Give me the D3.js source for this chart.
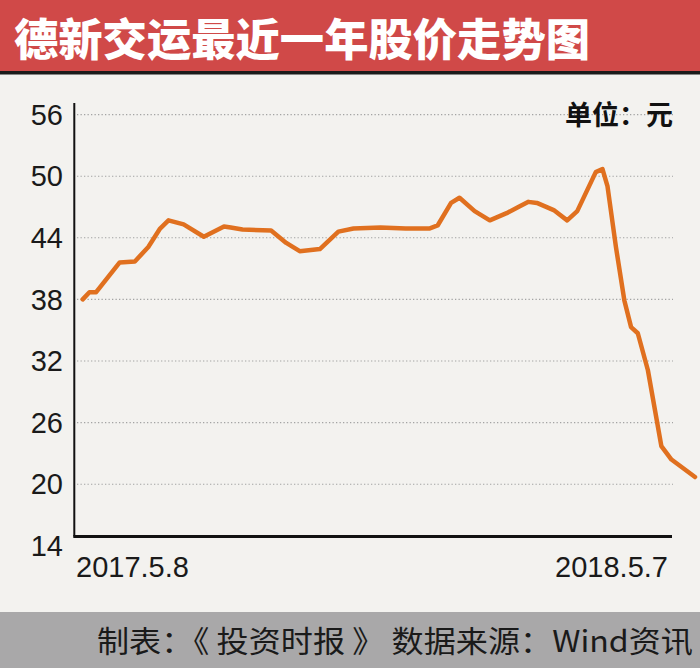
<!DOCTYPE html>
<html>
<head>
<meta charset="utf-8">
<script src="https://cdn.jsdelivr.net/npm/d3@7"></script>
<style>
  html, body { margin: 0; padding: 0; background: #F3F2EF; }
  svg { display: block; }
</style>
</head>
<body>
<svg id="chart" width="700" height="668"></svg>
<script>
// ---- data ----
const titleText = "德新交运最近一年股价走势图";
const unitText = "单位：元";
const footerText = "制表：《 投资时报 》 数据来源：Wind资讯";
const dates = ["2017-05-08","2017-05-12","2017-05-16","2017-05-30","2017-06-08","2017-06-16","2017-06-23","2017-06-28","2017-07-07","2017-07-19","2017-07-31","2017-08-04","2017-08-11","2017-08-28","2017-09-06","2017-09-14","2017-09-26","2017-10-07","2017-10-16","2017-11-01","2017-11-16","2017-11-30","2017-12-05","2017-12-13","2017-12-18","2017-12-27","2018-01-05","2018-01-15","2018-01-22","2018-01-28","2018-02-02","2018-02-12","2018-02-20","2018-02-26","2018-03-09","2018-03-13","2018-03-16","2018-03-21","2018-03-26","2018-03-30","2018-04-03","2018-04-09","2018-04-17","2018-04-23","2018-05-07"];
const prices = [38.0,38.7,38.7,41.6,41.7,43.1,44.9,45.7,45.3,44.1,45.1,45.0,44.8,44.7,43.5,42.7,42.9,44.6,44.9,45.0,44.9,44.9,45.2,47.4,47.9,46.6,45.7,46.4,47.0,47.5,47.4,46.7,45.7,46.6,50.4,50.7,49.0,43.1,37.9,35.3,34.7,31.1,23.7,22.4,20.7];
const yTicks = [14,20,26,32,38,44,50,56];
const xLabels = ["2017.5.8","2018.5.7"];

// ---- layout ----
const W = 700, H = 668;
const parse = d3.timeParse("%Y-%m-%d");
const series = dates.map((d, i) => ({ date: parse(d), value: prices[i] }));

const x = d3.scaleTime()
  .domain([parse(dates[0]), parse(dates[dates.length - 1])])
  .range([82.7, 695]);
const y = d3.scaleLinear().domain([14, 56]).range([545.8, 114.6]);

const axisX = 74.3, plotTop = 103, plotBottom = 536.5, plotRight = 672;

const svg = d3.select("#chart");

// background
svg.append("rect").attr("x", 0).attr("y", 0).attr("width", W).attr("height", H).attr("fill", "#F3F2EF");

// title bar
svg.append("rect").attr("x", 0).attr("y", 0).attr("width", W).attr("height", 72).attr("fill", "#D04948");
svg.append("rect").attr("x", 0).attr("y", 71).attr("width", W).attr("height", 3.5).attr("fill", "#1b1b1b");
svg.append("text")
  .attr("x", 14).attr("y", 37)
  .attr("dominant-baseline", "central")
  .attr("font-family", "'Noto Sans CJK SC', sans-serif")
  .attr("font-weight", 900)
  .attr("font-size", 44)
  .attr("fill", "#ffffff")
  .attr("textLength", 576)
  .attr("lengthAdjust", "spacingAndGlyphs")
  .text(titleText);

// gridlines (dotted)
svg.append("g").selectAll("line")
  .data(yTicks.filter(t => t > 14))
  .join("line")
  .attr("x1", 77).attr("x2", 673)
  .attr("y1", d => y(d)).attr("y2", d => y(d))
  .attr("stroke", "#a3a3a3")
  .attr("stroke-width", 1.1)
  .attr("stroke-dasharray", "1.3,2.2");

// y tick labels
svg.append("g").selectAll("text")
  .data(yTicks)
  .join("text")
  .attr("x", 63)
  .attr("y", d => y(d))
  .attr("dy", "0.35em")
  .attr("text-anchor", "end")
  .attr("font-family", "'Liberation Sans', Arial, sans-serif")
  .attr("font-size", 29)
  .attr("fill", "#1a1a1a")
  .text(d => d);

// unit label
svg.append("text")
  .attr("x", 673).attr("y", 113)
  .attr("dominant-baseline", "central")
  .attr("text-anchor", "end")
  .attr("font-family", "'Noto Sans CJK SC', sans-serif")
  .attr("font-weight", 700)
  .attr("font-size", 27)
  .attr("fill", "#111")
  .text(unitText);

// line
const line = d3.line().x(d => x(d.date)).y(d => y(d.value));
svg.append("path")
  .datum(series)
  .attr("d", line)
  .attr("fill", "none")
  .attr("stroke", "#E0701F")
  .attr("stroke-width", 4.5)
  .attr("stroke-linejoin", "round")
  .attr("stroke-linecap", "round");

// axes lines
svg.append("line").attr("x1", axisX).attr("x2", axisX).attr("y1", plotTop).attr("y2", plotBottom)
  .attr("stroke", "#111").attr("stroke-width", 2);
svg.append("line").attr("x1", axisX - 1).attr("x2", plotRight).attr("y1", plotBottom).attr("y2", plotBottom)
  .attr("stroke", "#111").attr("stroke-width", 3);

// x labels
svg.append("text")
  .attr("x", 76).attr("y", 577)
  .attr("font-family", "'Liberation Sans', Arial, sans-serif")
  .attr("font-size", 29).attr("fill", "#1a1a1a")
  .text(xLabels[0]);
svg.append("text")
  .attr("x", 668).attr("y", 577)
  .attr("text-anchor", "end")
  .attr("font-family", "'Liberation Sans', Arial, sans-serif")
  .attr("font-size", 29).attr("fill", "#1a1a1a")
  .text(xLabels[1]);

// footer
svg.append("rect").attr("x", 0).attr("y", 612).attr("width", W).attr("height", H - 612).attr("fill", "#A9A8A9");
svg.append("text")
  .attr("x", 97).attr("y", 639)
  .attr("dominant-baseline", "central")
  .attr("font-family", "'Noto Sans CJK SC', sans-serif")
  .attr("font-size", 30)
  .attr("fill", "#1a1a1a")
  .attr("textLength", 596)
  .attr("lengthAdjust", "spacingAndGlyphs")
  .text(footerText);
</script>
</body>
</html>
